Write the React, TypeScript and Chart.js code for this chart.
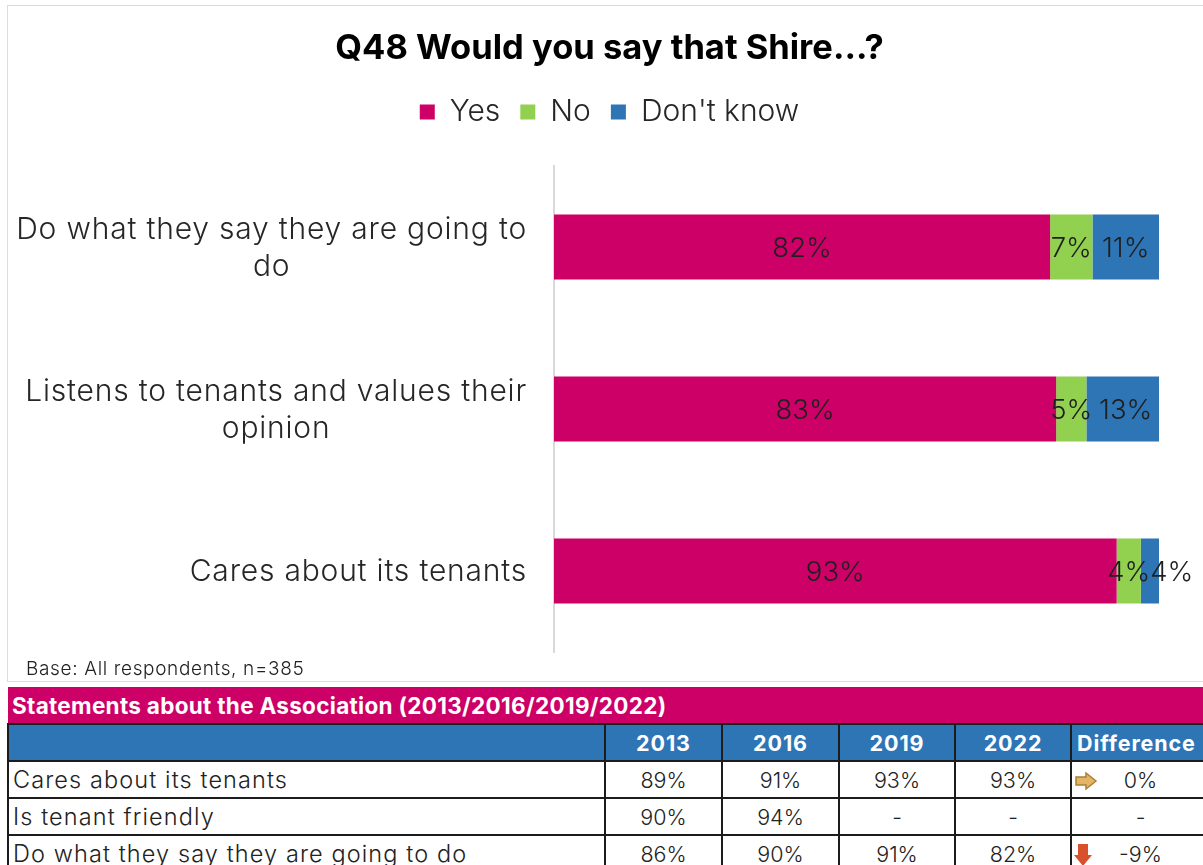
import React, { useEffect, useRef } from "react";
import { Chart, registerables } from "chart.js";

Chart.register(...registerables);

const FONT = "Inter";
const BLACK = "#1c1c1c";

const categories = [
  ["Do what they say they are going to", "do"],
  ["Listens to tenants and values their", "opinion"],
  ["Cares about its tenants"],
];
const seriesNames = ["Yes", "No", "Don't know"];
const yesValues = [82, 83, 93];
const noValues = [7, 5, 4];
const dontKnowValues = [11, 13, 4];
const seriesColors = ["#CC0066", "#92D050", "#2E75B6"];

const tableTitle = "Statements about the Association (2013/2016/2019/2022)";
const tableYears = ["2013", "2016", "2019", "2022", "Difference"];
const tableStatements = ["Cares about its tenants", "Is tenant friendly", "Do what they say they are going to do"];
const tableValues = [
  ["89%", "91%", "93%", "93%", "0%"],
  ["90%", "94%", "-", "-", "-"],
  ["86%", "90%", "91%", "82%", "-9%"],
];
const tableTrend = ["flat", "", "down"];

// Category labels: each block sits flush right, its lines centred inside the block.
const categoryLabelPlugin = {
  id: "categoryLabels",
  afterDraw(chart: any) {
    const { ctx, scales } = chart;
    const y = scales.y;
    const right = 519;
    const lineHeight = 37;
    ctx.save();
    ctx.font = `300 30px ${FONT}`;
    (ctx as any).letterSpacing = "0.8px";
    ctx.fillStyle = "#262626";
    ctx.textAlign = "center";
    ctx.textBaseline = "middle";
    categories.forEach((lines, i) => {
      const width = Math.max(...lines.map((l) => ctx.measureText(l).width));
      const cy = y.getPixelForTick(i);
      lines.forEach((line, j) => {
        const offset = (j - (lines.length - 1) / 2) * lineHeight;
        ctx.fillText(line, right - width / 2, cy + offset + 1);
      });
    });
    ctx.restore();
  },
};

// Value labels centred on each bar segment; a label that would run into the
// previous one in its row is pushed right until it clears it.
const valueLabelPlugin = {
  id: "valueLabels",
  afterDatasetsDraw(chart: any) {
    const { ctx } = chart;
    ctx.save();
    ctx.font = `300 27.5px ${FONT}`;
    ctx.fillStyle = "#1f1f1f";
    ctx.textAlign = "center";
    ctx.textBaseline = "middle";
    const rowRight: number[] = [];
    chart.data.datasets.forEach((ds: any, d: number) => {
      chart.getDatasetMeta(d).data.forEach((bar: any, i: number) => {
        const text = `${ds.data[i]}%`;
        const half = ctx.measureText(text).width / 2;
        const c = bar.getCenterPoint();
        const x = Math.max(c.x, (rowRight[i] ?? -Infinity) + half);
        ctx.fillText(text, x, c.y + 2);
        rowRight[i] = x + half;
      });
    });
    ctx.restore();
  },
};

function TrendIcon({ kind }: { kind: string }) {
  if (kind === "flat") {
    return (
      <svg width="24" height="20" viewBox="0 0 24 20" style={{ position: "absolute", left: 2, top: 9 }}>
        <path d="M2 6h10V2l10 8-10 8v-4H2z" fill="#E3B565" stroke="#A8803A" strokeWidth="1.5" />
      </svg>
    );
  }
  if (kind === "down") {
    return (
      <svg width="20" height="24" viewBox="0 0 20 24" style={{ position: "absolute", left: 1, top: 7 }}>
        <path d="M5 1h10v11h4l-9 11-9-11h4z" fill="#D9512C" />
      </svg>
    );
  }
  return null;
}

const cellBase: React.CSSProperties = {
  border: `2px solid ${BLACK}`,
  padding: 0,
  textAlign: "center",
  position: "relative",
  boxSizing: "border-box",
};

export default function App() {
  const ref = useRef<HTMLCanvasElement>(null);

  useEffect(() => {
    const chart = new Chart(ref.current as HTMLCanvasElement, {
      type: "bar",
      data: {
        labels: categories.map((c) => c.join(" ")),
        datasets: [yesValues, noValues, dontKnowValues].map((data, i) => ({
          label: seriesNames[i],
          data,
          backgroundColor: seriesColors[i],
          categoryPercentage: 1,
          barPercentage: 0.4,
        })),
      },
      options: {
        indexAxis: "y",
        animation: false,
        responsive: false,
        layout: { padding: { left: 52, right: 52, top: 0, bottom: 31 } },
        plugins: {
          title: {
            display: true,
            text: "Q48 Would you say that Shire...?",
            color: "#000000",
            font: { family: FONT, size: 34.5, weight: "bold" },
            padding: { top: 28, bottom: 7.6 },
          },
          legend: {
            position: "top",
            labels: {
              color: "#262626",
              font: { family: FONT, size: 30, weight: "300" },
              boxWidth: 15,
              boxHeight: 15,
              padding: 20,
            },
          },
          tooltip: { enabled: false },
        },
        scales: {
          x: {
            stacked: true,
            position: "top",
            min: 0,
            max: 100,
            ticks: { display: false },
            grid: { display: false },
            border: { display: false },
            afterFit: (s: any) => {
              s.height = 29;
            },
          },
          y: {
            stacked: true,
            ticks: { display: false },
            grid: { display: false },
            border: { display: true, color: "#d9d9d9", width: 2 },
            afterFit: (s: any) => {
              s.width = 494;
            },
          },
        },
      },
      plugins: [categoryLabelPlugin, valueLabelPlugin],
    } as any);
    return () => chart.destroy();
  }, []);

  return (
    <div style={{ position: "absolute", left: 0, top: 0, width: 1203, height: 865, overflow: "hidden", background: "#fff", fontFamily: FONT }}>
      <div style={{ position: "absolute", left: 7, top: 5, width: 1210, height: 677, border: "1.5px solid #dcdcdc", boxSizing: "border-box" }} />
      <canvas ref={ref} width={1203} height={683} style={{ position: "absolute", left: 8, top: 0 }} />
      <div style={{ position: "absolute", left: 26, top: 657, fontSize: 19, letterSpacing: 0.65, fontWeight: 300, color: "#222", whiteSpace: "nowrap" }}>
        Base: All respondents, n=385
      </div>
      <table style={{ position: "absolute", left: 7, top: 687, width: 1206, borderCollapse: "collapse", tableLayout: "fixed", fontSize: 21.5, fontWeight: 300, color: "#222" }}>
        <colgroup>
          <col style={{ width: 597 }} />
          <col style={{ width: 117 }} />
          <col style={{ width: 117 }} />
          <col style={{ width: 116 }} />
          <col style={{ width: 116 }} />
          <col style={{ width: 143 }} />
        </colgroup>
        <tbody>
          <tr style={{ height: 37 }}>
            <td colSpan={6} style={{ ...cellBase, border: "none", borderBottom: `2px solid ${BLACK}`, background: "#CC0066", color: "#fff", fontWeight: 700, fontSize: 22.5, letterSpacing: 0.3, textAlign: "left", paddingLeft: 4, whiteSpace: "nowrap" }}>
              {tableTitle}
            </td>
          </tr>
          <tr style={{ height: 37 }}>
            <td style={{ ...cellBase, background: "#2E75B6" }} />
            {tableYears.map((y) => (
              <td key={y} style={{ ...cellBase, background: "#2E75B6", color: "#fff", fontWeight: 700, letterSpacing: 0.9, textAlign: y === "Difference" ? "left" : "center", paddingLeft: y === "Difference" ? 5 : 0, whiteSpace: "nowrap" }}>
                {y}
              </td>
            ))}
          </tr>
          {tableStatements.map((s, r) => (
            <tr key={s} style={{ height: 37 }}>
              <td style={{ ...cellBase, fontSize: 23.5, letterSpacing: 1.1, textAlign: "left", paddingLeft: 4, whiteSpace: "nowrap" }}>{s}</td>
              {tableValues[r].map((v, c) => (
                <td key={c} style={{ ...cellBase, paddingRight: c === 4 ? 4 : 0 }}>
                  {c === 4 ? <TrendIcon kind={tableTrend[r]} /> : null}
                  {v}
                </td>
              ))}
            </tr>
          ))}
        </tbody>
      </table>
    </div>
  );
}
